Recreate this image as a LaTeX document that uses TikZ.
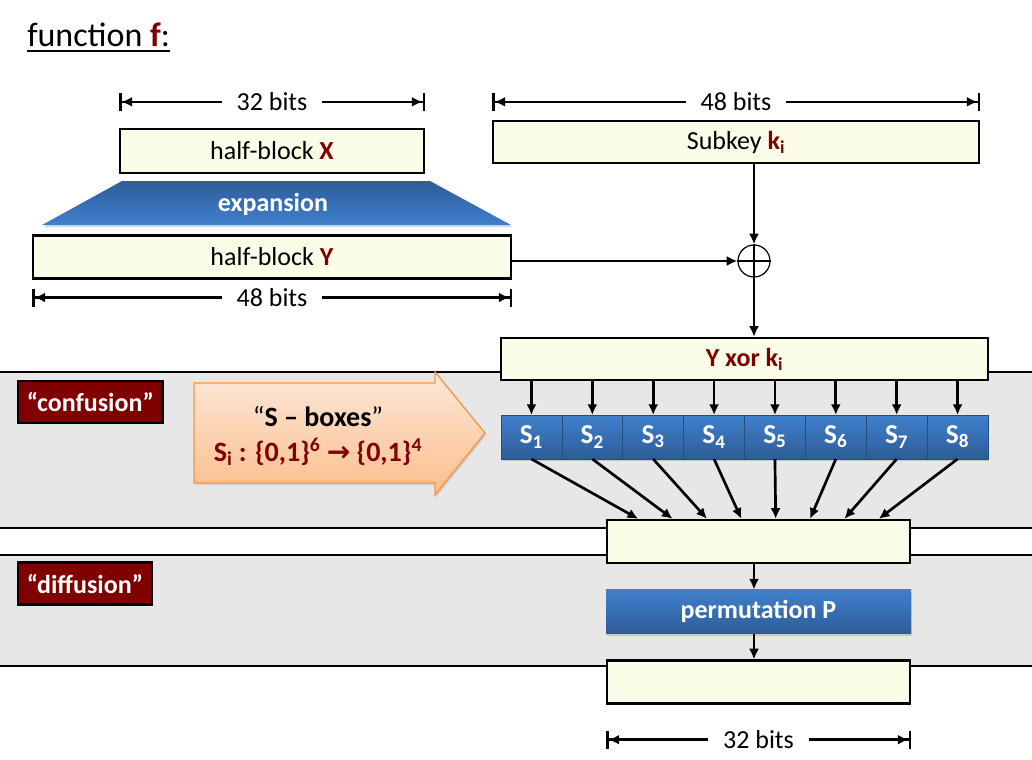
\documentclass[tikz,border=0pt]{standalone}
\usepackage{fontspec}
\setmainfont{Carlito}
\newfontfamily\arrowfont{DejaVu Sans}
\usetikzlibrary{arrows.meta, positioning, shadows, calc}
\definecolor{dred}{RGB}{128,0,0}
\definecolor{pale}{RGB}{251,253,232}
\definecolor{band}{RGB}{231,231,231}
\definecolor{blueL}{RGB}{64,128,204}
\definecolor{blueD}{RGB}{46,92,152}
\definecolor{peachL}{RGB}{253,232,216}
\definecolor{peachD}{RGB}{251,190,140}
\definecolor{orng}{RGB}{247,150,70}
\tikzset{
    field/.style={rectangle, draw, line width=1.75pt, fill=pale, font=\fontsize{19.5}{23}\selectfont},
    blk/.style={rectangle, top color=blueL, bottom color=blueD, text=white, font=\bfseries\fontsize{19.5}{23}\selectfont, drop shadow={shadow xshift=1pt, shadow yshift=-1.5pt, opacity=0.3}},
    sbox/.style={blk, draw=blueD!85!black, line width=0.5pt, outer sep=0pt, minimum width=45.66pt, minimum height=33pt, font=\bfseries\fontsize{20.5}{24}\selectfont},
    tag/.style={rectangle, draw, line width=1.75pt, fill=dred, text=white, anchor=west, inner xsep=6.5pt, minimum height=31.5pt, font=\bfseries\fontsize{19.5}{23}\selectfont},
    lbl/.style={text=white, font=\bfseries\fontsize{19.5}{23}\selectfont},
    dimlbl/.style={fill=white, inner xsep=11pt, inner ysep=1pt, font=\fontsize{19.5}{23}\selectfont},
    arr/.style={-{Latex[length=8pt,width=7.5pt]}, line width=2pt},
    dim/.style={{Bar[width=13.5pt]Latex[length=8pt,width=7.5pt]}-{Latex[length=8pt,width=7.5pt]Bar[width=13.5pt]}, line width=2pt},
}

\begin{document}
\begin{tikzpicture}[x=0.75pt, y=-0.75pt]
\useasboundingbox (0,0) rectangle (1032,760);

% Bands
\fill[band] (0,372) rectangle (1032,528);
\fill[band] (0,555) rectangle (1032,666);
\draw[line width=0.9pt] (0,372) -- (1032,372) (0,528) -- (1032,528) (0,555) -- (1032,555);
\draw[line width=1.75pt] (0,666) -- (1032,666);

% Title
\node[anchor=base west, inner sep=0pt, font=\fontsize{25.5}{30}\selectfont] (ttl) at (27,46) {function \textcolor{dred}{\textbf{f}}:};
\draw[line width=1.4pt] ($(ttl.base west)+(0,5)$) -- ($(ttl.base east)+(0,5)$);

% Half-blocks
\node[field, minimum width=228pt, minimum height=33pt] (hx) at (272,151) {half-block \textcolor{dred}{\textbf{X}}};
\shade[top color=blueD, bottom color=blueL, drop shadow={shadow xshift=1pt, shadow yshift=-1.5pt, opacity=0.3}]
    (122,181) -- (430,181) -- (511,225) -- (42,225) -- cycle;
\node[lbl] (exp) at (273,204) {expansion};
\node[field, minimum width=358.5pt, minimum height=32.25pt, below=45pt of hx] (hy) {half-block \textcolor{dred}{\textbf{Y}}};

% Subkey
\node[field, minimum width=364.5pt, minimum height=31.5pt] (sk) at (736,142) {Subkey \textcolor{dred}{\textbf{k\textsubscript{i}}}};
\node[circle, draw, line width=0.9pt, minimum size=24pt, inner sep=0pt] (xo) at (754,261) {};
\draw[line width=0.9pt] (xo.north) -- (xo.south) (xo.west) -- (xo.east);
\node[field, minimum width=365.25pt, minimum height=31.5pt] (yk) at (744.5,359) {\textcolor{dred}{\textbf{Y xor k\textsubscript{i}}}};

% Widths
\draw[dim] ($(hx.north west)+(0,-26)$) -- ($(hx.north east)+(0,-26)$) node[midway, dimlbl] (w1) {32 bits};
\draw[dim] ($(sk.north west)+(0,-18)$) -- ($(sk.north east)+(0,-18)$) node[midway, dimlbl] (w2) {48 bits};
\draw[dim] ($(hy.south west)+(0,18)$) -- ($(hy.south east)+(0,18)$) node[midway, dimlbl] (w3) {48 bits};

% Labels
\node[tag] (conf) at (17,402) {“confusion”};
\node[tag] (diff) at (17,583.5) {“diffusion”};

% S-box hint
\shade[draw=orng, line width=1pt, top color=peachL, bottom color=peachD, drop shadow={shadow xshift=1pt, shadow yshift=-1.5pt, opacity=0.25}]
    (194,383) -- (435,383) -- (435,372) -- (485,433) -- (435,495) -- (435,483) -- (194,483) -- cycle;
\node[font=\fontsize{21}{25}\selectfont] (sbt) at (318,417) {“\textbf{S – boxes}”};
\node[font=\bfseries\fontsize{21}{25}\selectfont, text=dred] (smap) at (318,452) {S\textsubscript{i} : \{0,1\}\textsuperscript{6} {\arrowfont\bfseries →} \{0,1\}\textsuperscript{4}};

% S-boxes
\foreach \i in {1,...,8} {
    \node[sbox] (s\i) at ({501+60.875*(\i-0.5)},437) {S\textsubscript{\i}};
}

% Output side
\node[field, minimum width=227.25pt, minimum height=32.25pt] (b3) at (758.5,541.5) {};
\node[blk, minimum width=228.75pt, minimum height=33pt, below=19pt of b3] (perm) {permutation P};
\node[field, minimum width=227.25pt, minimum height=32.25pt, below=19pt of perm] (b4) {};
\draw[dim] ($(b4.south west)+(0,35)$) -- ($(b4.south east)+(0,35)$) node[midway, dimlbl] (w4) {32 bits};

% Arrows
\draw[arr] (sk.south -| xo) -- (xo);
\draw[arr] (hy.east |- xo) -- (xo);
\draw[arr] (xo) -- (yk.north -| xo);
\foreach \i [evaluate=\i as \f using 0.106+0.1126*(\i-1)] in {1,...,8} {
    \draw[arr] (yk.south -| s\i) -- (s\i.north);
    \coordinate (p\i) at ($(b3.north west)!\f!(b3.north east)$);
    \draw[arr] (s\i.south) -- (p\i);
}
\draw[arr] (b3.south -| xo) -- (perm.north -| xo);
\draw[arr] (perm.south -| xo) -- (b4.north -| xo);

\end{tikzpicture}
\end{document}
